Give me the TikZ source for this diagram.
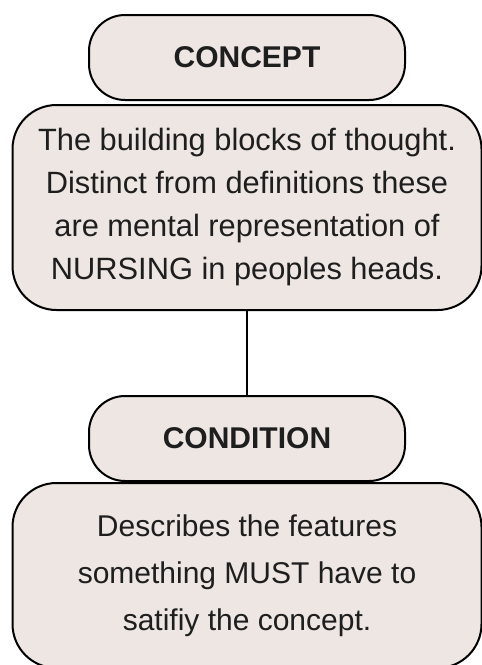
\documentclass[tikz,border=0pt]{standalone}
\usepackage{fontspec}
\setmainfont{Liberation Sans}
\usetikzlibrary{positioning}

\definecolor{boxfill}{RGB}{237,230,226}
\definecolor{ink}{RGB}{30,30,30}

\begin{document}
\begin{tikzpicture}[x=1pt,y=-1pt,line width=2pt,node distance=3pt,
                text=ink,
                title node/.style={rectangle,rounded corners=36pt,draw,fill=boxfill,
                  minimum width=316pt,minimum height=85pt,inner sep=0pt,
                  font=\fontsize{30}{36}\selectfont\bfseries},
                text node/.style={rectangle,rounded corners=44pt,draw,fill=boxfill,
                  minimum width=469pt,inner sep=0pt,align=center}]

  \useasboundingbox (0,0) rectangle (482,665);

  \node[title node] (1) at (247,57.5) {CONCEPT};
  \node[text node,minimum height=205pt,font=\fontsize{30.8}{43}\selectfont]
    (2) [below=3pt of 1] {The building blocks of thought.\\
      Distinct from definitions these\\
      are mental representation of\\
      NURSING in peoples heads.};
  \node[title node] (3) [below=84pt of 2] {CONDITION};
  \node[text node,minimum height=185pt,font=\fontsize{30}{47}\selectfont]
    (4) [below=0pt of 3] {Describes the features\\
      something MUST have to\\
      satifiy the concept.};

  \path
    (2) edge (3);
\end{tikzpicture}
\end{document}
